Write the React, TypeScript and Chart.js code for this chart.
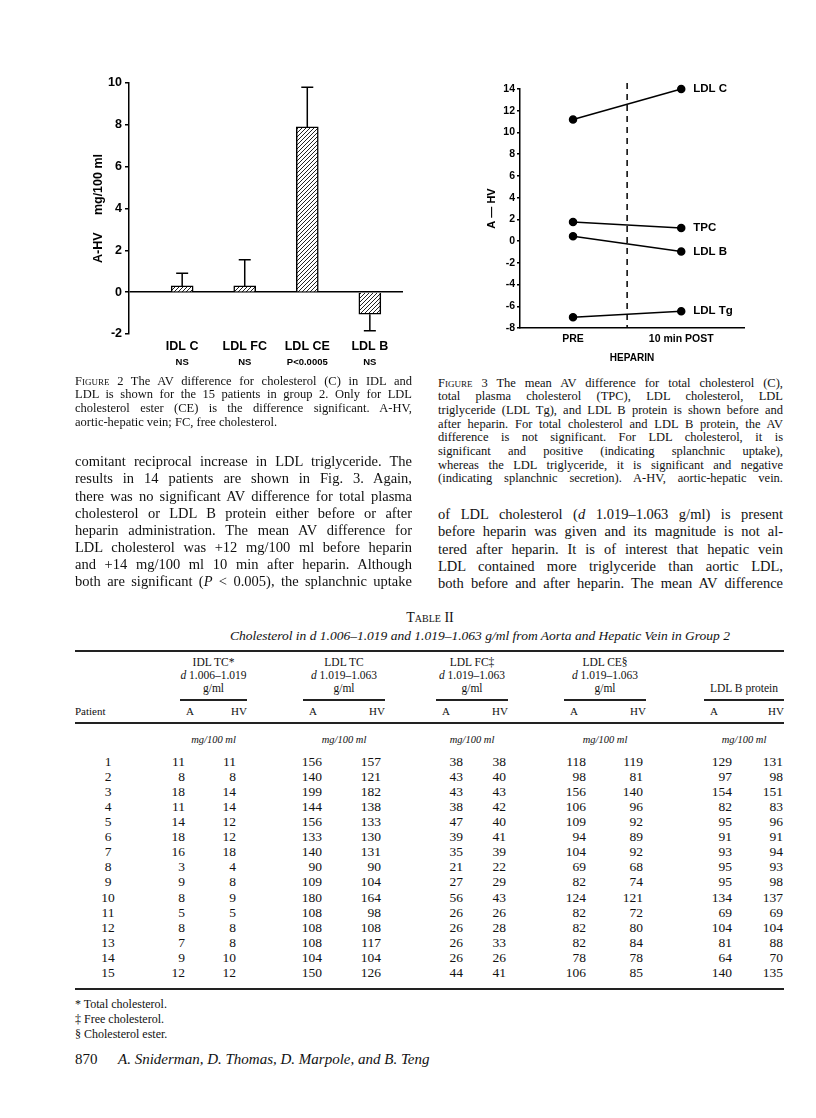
import React, { useEffect, useRef } from 'react';
import { Chart, registerables } from 'chart.js';

Chart.register(...registerables);

// ---------- Figure 2 data ----------
const fig2Categories = ['IDL C', 'LDL FC', 'LDL CE', 'LDL B'];
const fig2Significance = ['NS', 'NS', 'P<0.0005', 'NS'];
const fig2Means = [0.3, 0.3, 7.9, -1.05];
const fig2ErrorEnds = [0.9, 1.55, 9.8, -1.85];
const fig2YTicks = [-2, 0, 2, 4, 6, 8, 10];

// ---------- Figure 3 data ----------
const fig3Times = ['PRE', '10 min POST'];
const fig3Series = ['LDL C', 'TPC', 'LDL B', 'LDL Tg'];
const fig3Pre = [11.2, 1.75, 0.45, -7.0];
const fig3Post = [14.0, 1.2, -0.95, -6.45];
const fig3YTicks = [-8, -6, -4, -2, 0, 2, 4, 6, 8, 10, 12, 14];

// ---------- Table II data ----------
const patients = [1, 2, 3, 4, 5, 6, 7, 8, 9, 10, 11, 12, 13, 14, 15];
const idlTcA = [11, 8, 18, 11, 14, 18, 16, 3, 9, 8, 5, 8, 7, 9, 12];
const idlTcHV = [11, 8, 14, 14, 12, 12, 18, 4, 8, 9, 5, 8, 8, 10, 12];
const ldlTcA = [156, 140, 199, 144, 156, 133, 140, 90, 109, 180, 108, 108, 108, 104, 150];
const ldlTcHV = [157, 121, 182, 138, 133, 130, 131, 90, 104, 164, 98, 108, 117, 104, 126];
const ldlFcA = [38, 43, 43, 38, 47, 39, 35, 21, 27, 56, 26, 26, 26, 26, 44];
const ldlFcHV = [38, 40, 43, 42, 40, 41, 39, 22, 29, 43, 26, 28, 33, 26, 41];
const ldlCeA = [118, 98, 156, 106, 109, 94, 104, 69, 82, 124, 82, 82, 82, 78, 106];
const ldlCeHV = [119, 81, 140, 96, 92, 89, 92, 68, 74, 121, 72, 80, 84, 78, 85];
const ldlBA = [129, 97, 154, 82, 95, 91, 93, 95, 95, 134, 69, 104, 81, 64, 140];
const ldlBHV = [131, 98, 151, 83, 96, 91, 94, 93, 98, 137, 69, 104, 88, 70, 135];

const SERIF = '"Liberation Serif", "Times New Roman", serif';
const SANS = '"Liberation Sans", Arial, sans-serif';
const INK = '#111';

function makeHatch(): CanvasPattern | string {
  const c = document.createElement('canvas');
  c.width = 4;
  c.height = 4;
  const g = c.getContext('2d');
  if (!g) return '#888';
  g.fillStyle = '#fff';
  g.fillRect(0, 0, 4, 4);
  g.strokeStyle = '#222';
  g.lineWidth = 1;
  g.beginPath();
  g.moveTo(0, 4); g.lineTo(4, 0);
  g.moveTo(-1, 1); g.lineTo(1, -1);
  g.moveTo(3, 5); g.lineTo(5, 3);
  g.stroke();
  return g.createPattern(c, 'repeat') || '#888';
}

function Fig2Chart() {
  const ref = useRef<HTMLCanvasElement>(null);
  useEffect(() => {
    if (!ref.current) return;
    const overlay = {
      id: 'fig2overlay',
      afterDatasetsDraw(chart: any) {
        const { ctx } = chart;
        const xs = chart.scales.x;
        const ys = chart.scales.y;
        ctx.save();
        ctx.strokeStyle = '#000';
        ctx.lineWidth = 1.5;
        fig2Means.forEach((m, i) => {
          const x = xs.getPixelForValue(i);
          const y0 = ys.getPixelForValue(m);
          const y1 = ys.getPixelForValue(fig2ErrorEnds[i]);
          ctx.beginPath();
          ctx.moveTo(x, y0);
          ctx.lineTo(x, y1);
          ctx.moveTo(x - 6, y1);
          ctx.lineTo(x + 6, y1);
          ctx.stroke();
        });
        ctx.fillStyle = '#000';
        ctx.font = `bold 9.5px ${SANS}`;
        ctx.textAlign = 'center';
        ctx.textBaseline = 'middle';
        fig2Significance.forEach((s, i) => {
          ctx.fillText(s, xs.getPixelForValue(i), ys.bottom + 28);
        });
        ctx.restore();
      },
    };
    const chart = new Chart(ref.current, {
      type: 'bar',
      data: {
        datasets: [
          {
            data: fig2Means.map((v, i) => ({ x: i, y: v })),
            backgroundColor: makeHatch() as any,
            borderColor: '#000',
            borderWidth: 1.5,
            barThickness: 22,
          },
        ],
      },
      options: {
        responsive: false,
        animation: false,
        devicePixelRatio: 1,
        layout: { padding: { top: 13, right: 17, left: 0, bottom: 0 } },
        plugins: { legend: { display: false }, tooltip: { enabled: false } },
        scales: {
          x: {
            type: 'linear',
            offset: false,
            min: -0.85,
            max: 3.53,
            afterBuildTicks: (s: any) => {
              s.ticks = fig2Categories.map((_, i) => ({ value: i }));
            },
            afterFit: (s: any) => {
              s.height = 46;
            },
            ticks: {
              callback: (v: any) => fig2Categories[Math.round(Number(v))],
              font: { family: SANS, weight: 'bold', size: 12.5 },
              color: '#000',
              padding: 5,
              maxRotation: 0,
              autoSkip: false,
            },
            grid: { display: false, drawTicks: false, offset: false },
            border: { display: false },
          },
          y: {
            min: -2,
            max: 10,
            afterBuildTicks: (s: any) => {
              s.ticks = fig2YTicks.map((v) => ({ value: v }));
            },
            afterFit: (s: any) => {
              s.width = 69;
            },
            ticks: {
              font: { family: SANS, weight: 'bold', size: 12.5 },
              color: '#000',
              padding: 3,
            },
            grid: {
              color: (c: any) => (c.tick && c.tick.value === 0 ? '#000' : 'rgba(0,0,0,0)'),
              lineWidth: 1.5,
              tickColor: '#000',
              tickLength: 4,
            },
            border: { color: '#000', width: 1.5 },
            title: {
              display: true,
              text: 'A-HV     mg/100 ml',
              font: { family: SANS, weight: 'bold', size: 12.5 },
              color: '#000',
              padding: { top: 31, bottom: 0 },
            },
          },
        },
      } as any,
      plugins: [overlay],
    });
    return () => chart.destroy();
  }, []);
  return (
    <canvas
      ref={ref}
      width={360}
      height={310}
      style={{ position: 'absolute', left: 60, top: 70, width: 360, height: 310 }}
    />
  );
}

function Fig3Chart() {
  const ref = useRef<HTMLCanvasElement>(null);
  useEffect(() => {
    if (!ref.current) return;
    const overlay = {
      id: 'fig3overlay',
      beforeDatasetsDraw(chart: any) {
        const { ctx } = chart;
        const xs = chart.scales.x;
        const ys = chart.scales.y;
        const x = xs.getPixelForValue(0.5);
        ctx.save();
        ctx.strokeStyle = '#000';
        ctx.lineWidth = 1.5;
        ctx.setLineDash([6, 5]);
        ctx.beginPath();
        ctx.moveTo(x, ys.top - 6);
        ctx.lineTo(x, ys.bottom);
        ctx.stroke();
        ctx.restore();
      },
      afterDatasetsDraw(chart: any) {
        const { ctx } = chart;
        const xs = chart.scales.x;
        const ys = chart.scales.y;
        ctx.save();
        ctx.fillStyle = '#000';
        ctx.font = `bold 11.5px ${SANS}`;
        ctx.textAlign = 'left';
        ctx.textBaseline = 'middle';
        fig3Series.forEach((s, i) => {
          ctx.fillText(s, xs.getPixelForValue(1) + 12, ys.getPixelForValue(fig3Post[i]));
        });
        ctx.restore();
      },
    };
    const chart = new Chart(ref.current, {
      type: 'line',
      data: {
        datasets: fig3Series.map((name, i) => ({
          label: name,
          data: [
            { x: 0, y: fig3Pre[i] },
            { x: 1, y: fig3Post[i] },
          ],
          borderColor: '#000',
          borderWidth: 1.5,
          pointRadius: 3.5,
          pointBackgroundColor: '#000',
          pointBorderColor: '#000',
          clip: false,
        })),
      },
      options: {
        responsive: false,
        animation: false,
        devicePixelRatio: 1,
        layout: { padding: { top: 29, right: 46, left: 0, bottom: 0 } },
        plugins: { legend: { display: false }, tooltip: { enabled: false } },
        scales: {
          x: {
            type: 'linear',
            offset: false,
            min: -0.49,
            max: 1.58,
            afterBuildTicks: (s: any) => {
              s.ticks = fig3Times.map((_, i) => ({ value: i }));
            },
            afterFit: (s: any) => {
              s.height = 42;
            },
            ticks: {
              callback: (v: any) => fig3Times[Math.round(Number(v))],
              font: { family: SANS, weight: 'bold', size: 10.5 },
              color: '#000',
              padding: 5,
              maxRotation: 0,
              autoSkip: false,
            },
            grid: { display: false, drawTicks: false },
            border: { color: '#000', width: 1.5 },
            title: {
              display: true,
              text: 'HEPARIN',
              font: { family: SANS, weight: 'bold', size: 10 },
              color: '#000',
              padding: { top: 0, bottom: 6 },
            },
          },
          y: {
            min: -8,
            max: 14,
            afterBuildTicks: (s: any) => {
              s.ticks = fig3YTicks.map((v) => ({ value: v }));
            },
            afterFit: (s: any) => {
              s.width = 50;
            },
            ticks: {
              font: { family: SANS, weight: 'bold', size: 10.5 },
              color: '#000',
              padding: 2,
            },
            grid: {
              drawOnChartArea: false,
              color: '#000',
              tickColor: '#000',
              tickLength: 3,
              lineWidth: 1.5,
            },
            border: { color: '#000', width: 1.5 },
            title: {
              display: true,
              text: 'A — HV',
              font: { family: SANS, weight: 'bold', size: 11 },
              color: '#000',
              padding: { top: 15, bottom: 0 },
            },
          },
        },
      } as any,
      plugins: [overlay],
    });
    return () => chart.destroy();
  }, []);
  return (
    <canvas
      ref={ref}
      width={320}
      height={310}
      style={{ position: 'absolute', left: 470, top: 60, width: 320, height: 310 }}
    />
  );
}

// ---------- text helpers ----------
function rich(s: string) {
  const out: any[] = [];
  const re = /(_[^_]+_|\^[^^]+\^)/g;
  let last = 0;
  let m: RegExpExecArray | null;
  let k = 0;
  while ((m = re.exec(s))) {
    if (m.index > last) out.push(s.slice(last, m.index));
    const t = m[0];
    if (t[0] === '_') out.push(<i key={k++}>{t.slice(1, -1)}</i>);
    else
      out.push(
        <span key={k++} style={{ fontVariant: 'small-caps' }}>
          {t.slice(1, -1)}
        </span>
      );
    last = m.index + t.length;
  }
  if (last < s.length) out.push(s.slice(last));
  return out;
}

function TextBlock(props: {
  x: number;
  y: number;
  dy: number;
  w: number;
  size: number;
  lines: string[];
  lastJustify?: boolean;
}) {
  const { x, y, dy, w, size, lines, lastJustify } = props;
  return (
    <>
      {lines.map((ln, i) => {
        const justify = i < lines.length - 1 || !!lastJustify;
        return (
          <div
            key={i}
            style={{
              position: 'absolute',
              left: x,
              top: y + i * dy - size * 0.6,
              width: w,
              height: size * 1.2,
              lineHeight: `${size * 1.2}px`,
              fontSize: size,
              fontFamily: SERIF,
              whiteSpace: 'nowrap',
              textAlign: justify ? 'justify' : 'left',
              textAlignLast: justify ? 'justify' : 'left',
              color: INK,
            }}
          >
            {rich(ln)}
          </div>
        );
      })}
    </>
  );
}

function Txt(props: {
  x: number;
  y: number;
  size: number;
  text: string;
  align?: 'left' | 'center' | 'right';
  italic?: boolean;
}) {
  const { x, y, size, text, align = 'left', italic } = props;
  const w = 400;
  const left = align === 'left' ? x : align === 'center' ? x - w / 2 : x - w;
  return (
    <div
      style={{
        position: 'absolute',
        left,
        top: y - size * 0.6,
        width: w,
        height: size * 1.2,
        lineHeight: `${size * 1.2}px`,
        fontSize: size,
        fontFamily: SERIF,
        fontStyle: italic ? 'italic' : 'normal',
        textAlign: align,
        whiteSpace: 'nowrap',
        color: INK,
      }}
    >
      {rich(text)}
    </div>
  );
}

function Rule(props: { x1: number; x2: number; y: number; t: number }) {
  const { x1, x2, y, t } = props;
  return (
    <div
      style={{
        position: 'absolute',
        left: x1,
        top: y - t / 2,
        width: x2 - x1,
        height: t,
        background: '#222',
      }}
    />
  );
}

const fig2Caption = [
  'F^igure^ 2  The AV difference for cholesterol (C) in IDL and',
  'LDL is shown for the 15 patients in group 2. Only for LDL',
  'cholesterol ester (CE) is the difference significant. A-HV,',
  'aortic-hepatic vein; FC, free cholesterol.',
];
const fig3Caption = [
  'F^igure^ 3  The mean AV difference for total cholesterol (C),',
  'total plasma cholesterol (TPC), LDL cholesterol, LDL',
  'triglyceride (LDL Tg), and LDL B protein is shown before and',
  'after heparin. For total cholesterol and LDL B protein, the AV',
  'difference is not significant. For LDL cholesterol, it is',
  'significant and positive (indicating splanchnic uptake),',
  'whereas the LDL triglyceride, it is significant and negative',
  '(indicating splanchnic secretion). A-HV, aortic-hepatic vein.',
];
const leftBody = [
  'comitant reciprocal increase in LDL triglyceride. The',
  'results in 14 patients are shown in Fig. 3. Again,',
  'there was no significant AV difference for total plasma',
  'cholesterol or LDL B protein either before or after',
  'heparin administration. The mean AV difference for',
  'LDL cholesterol was +12 mg/100 ml before heparin',
  'and +14 mg/100 ml 10 min after heparin. Although',
  'both are significant (_P_ < 0.005), the splanchnic uptake',
];
const rightBody = [
  'of LDL cholesterol (_d_ 1.019–1.063 g/ml) is present',
  'before heparin was given and its magnitude is not al-',
  'tered after heparin. It is of interest that hepatic vein',
  'LDL contained more triglyceride than aortic LDL,',
  'both before and after heparin. The mean AV difference',
];

const tableGroups = [
  { lines: ['IDL TC*', '_d_ 1.006–1.019', 'g/ml'], x1: 180, x2: 247 },
  { lines: ['LDL TC', '_d_ 1.019–1.063', 'g/ml'], x1: 303, x2: 385 },
  { lines: ['LDL FC‡', '_d_ 1.019–1.063', 'g/ml'], x1: 436, x2: 508 },
  { lines: ['LDL CE§', '_d_ 1.019–1.063', 'g/ml'], x1: 564, x2: 646 },
  { lines: ['', '', 'LDL B protein'], x1: 704, x2: 784 },
];
const tableColumns = [idlTcA, idlTcHV, ldlTcA, ldlTcHV, ldlFcA, ldlFcHV, ldlCeA, ldlCeHV, ldlBA, ldlBHV];
const colRight = [185, 236, 322, 381, 463, 506, 586, 643, 732, 783];

function Table() {
  const rowY0 = 762;
  const rowDy = 15.07;
  return (
    <>
      <Txt x={430} y={618} size={14} text={'T^able^ II'} align="center" />
      <Txt
        x={430}
        y={636}
        size={13.5}
        italic
        text={'Cholesterol in d 1.006–1.019 and 1.019–1.063 g/ml from Aorta and Hepatic Vein in Group 2'}
        align="center"
      />
      <Rule x1={75} x2={784} y={651} t={2} />
      {tableGroups.map((g, gi) => {
        const cx = (g.x1 + g.x2) / 2;
        return (
          <React.Fragment key={gi}>
            {g.lines.map((ln, li) =>
              ln ? <Txt key={li} x={cx} y={663 + li * 12.7} size={11.5} text={ln} align="center" /> : null
            )}
            <Rule x1={g.x1} x2={g.x2} y={700} t={1.5} />
            <Txt x={g.x1 + 6} y={712} size={11} text="A" />
            <Txt x={g.x2} y={712} size={11} text="HV" align="right" />
            <Txt x={cx} y={740} size={10.5} italic text="mg/100 ml" align="center" />
          </React.Fragment>
        );
      })}
      <Txt x={75} y={712} size={11} text="Patient" />
      <Rule x1={75} x2={784} y={723} t={1.5} />
      {patients.map((p, r) => (
        <React.Fragment key={r}>
          <Txt x={108} y={rowY0 + r * rowDy} size={13.5} text={String(p)} align="center" />
          {tableColumns.map((col, ci) => (
            <Txt key={ci} x={colRight[ci]} y={rowY0 + r * rowDy} size={13.5} text={String(col[r])} align="right" />
          ))}
        </React.Fragment>
      ))}
      <Rule x1={75} x2={784} y={989} t={2} />
      <Txt x={75} y={1004} size={12} text="* Total cholesterol." />
      <Txt x={75} y={1019} size={12} text="‡ Free cholesterol." />
      <Txt x={75} y={1034} size={12} text="§ Cholesterol ester." />
      <Txt x={75} y={1059} size={15} text="870" />
      <Txt x={118} y={1059} size={15} italic text="A. Sniderman, D. Thomas, D. Marpole, and B. Teng" />
    </>
  );
}

export default function App() {
  return (
    <div
      style={{
        position: 'absolute',
        left: 0,
        top: 0,
        width: 816,
        height: 1118,
        background: '#fff',
        overflow: 'hidden',
      }}
    >
      <Fig2Chart />
      <Fig3Chart />
      <TextBlock x={75} y={381} dy={13.7} w={337} size={12.5} lines={fig2Caption} />
      <TextBlock x={438} y={383} dy={13.7} w={345} size={12.5} lines={fig3Caption} lastJustify />
      <TextBlock x={75} y={462} dy={17.1} w={337} size={14.5} lines={leftBody} lastJustify />
      <TextBlock x={438} y={515} dy={17.1} w={345} size={14.5} lines={rightBody} lastJustify />
      <Table />
    </div>
  );
}
